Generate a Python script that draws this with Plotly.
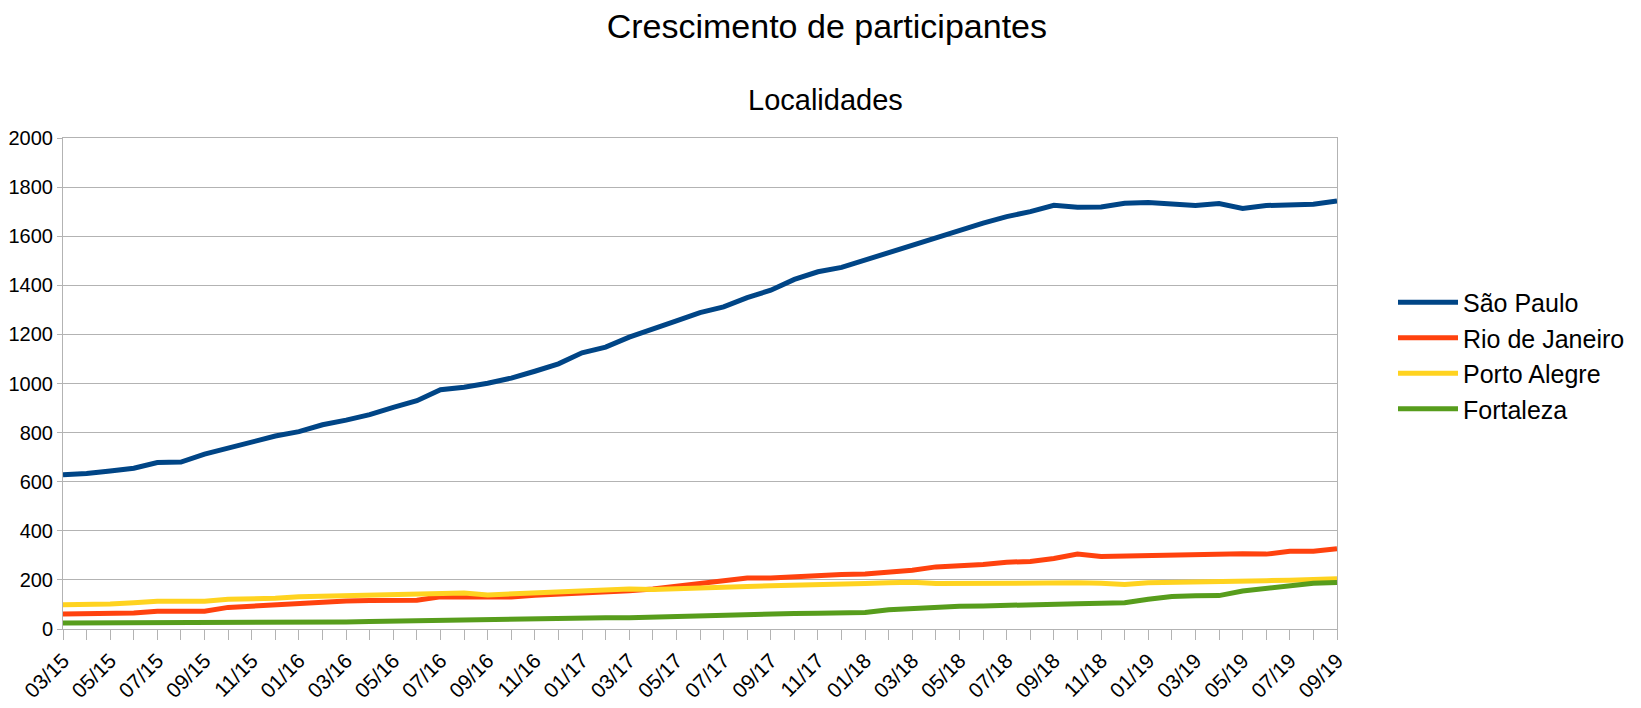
import plotly.graph_objects as go

MONTHS = [
    "03/15", "04/15", "05/15", "06/15", "07/15", "08/15", "09/15", "10/15", "11/15", "12/15",
    "01/16", "02/16", "03/16", "04/16", "05/16", "06/16", "07/16", "08/16", "09/16", "10/16", "11/16", "12/16",
    "01/17", "02/17", "03/17", "04/17", "05/17", "06/17", "07/17", "08/17", "09/17", "10/17", "11/17", "12/17",
    "01/18", "02/18", "03/18", "04/18", "05/18", "06/18", "07/18", "08/18", "09/18", "10/18", "11/18", "12/18",
    "01/19", "02/19", "03/19", "04/19", "05/19", "06/19", "07/19", "08/19", "09/19",
]

SAO_PAULO = [
    628, 633, 644, 655, 678, 680, 712, 736, 763, 786, 804,
    832, 851, 873, 903, 930, 975, 985, 1001, 1022, 1050,
    1080, 1125, 1148, 1189, 1220, 1255, 1289, 1312, 1350, 1380,
    1424, 1455, 1473, 1503, 1535, 1568, 1598, 1625, 1653, 1680,
    1700, 1726, 1718, 1719, 1734, 1737, 1732, 1725, 1733, 1713,
    1725, 1725, 1730, 1744,
]
RIO_DE_JANEIRO = [
    61, 61, 63, 65, 72, 72, 72, 88, 94, 97, 107, 112, 114, 116, 117, 117, 131, 131,
    130, 130, 137, 141, 147, 152, 156, 163, 174, 186, 197, 208, 208, 214, 219, 222, 224, 230,
    239, 253, 256, 263, 272, 275, 287, 305, 295, 297, 297, 302, 305, 307, 307, 305, 317, 317, 327,
]
PORTO_ALEGRE = [
    99, 99, 102, 107, 113, 113, 113, 121, 121, 125, 131, 133, 136, 139, 141, 144, 147, 147,
    139, 143, 146, 150, 156, 162, 163, 161, 165, 170, 173, 173, 176, 177, 180, 184, 185, 188,
    190, 185, 186, 186, 186, 186, 186, 188, 186, 181, 188, 189, 190, 190, 196, 197, 199, 201, 205,
]
FORTALEZA = [
    24, 24, 24, 25, 26, 26, 26, 27, 27, 28, 28, 28, 29, 31, 33, 35, 37, 38,
    41, 41, 42, 42, 45, 46, 46, 49, 49, 53, 57, 60, 60, 63, 64, 64, 67, 78,
    84, 90, 93, 94, 95, 98, 99, 103, 105, 107, 121, 132, 135, 136, 155, 165, 178, 186, 189,
]

SERIES = [
    ("São Paulo", SAO_PAULO, "#004586"),
    ("Rio de Janeiro", RIO_DE_JANEIRO, "#ff420e"),
    ("Porto Alegre", PORTO_ALEGRE, "#ffd320"),
    ("Fortaleza", FORTALEZA, "#579d1c"),
]

FONT = "Liberation Sans, Arial, sans-serif"
GRID = "#b3b3b3"
L, R, T, B = 55, 312, 130, 87
PW, PH = 1641 - L - R, 708 - T - B

fig = go.Figure()
for name, vals, color in SERIES:
    fig.add_trace(go.Scatter(x=MONTHS, y=vals, name=name, mode="lines",
                             line=dict(color=color, width=5)))

# label every second month, tick mark on every month
tick_text = [m if i % 2 == 0 else "" for i, m in enumerate(MONTHS)]

fig.update_layout(
    width=1641, height=708, template="plotly_white",
    paper_bgcolor="white", plot_bgcolor="white",
    margin=dict(l=L, r=R, t=T, b=B, autoexpand=False),
    font=dict(family=FONT, size=21, color="black"),
    title=dict(text="Crescimento de participantes", font=dict(size=34, color="black"),
               x=0.499, xanchor="center", xref="container", y=1 - 18 / 708, yanchor="middle"),
    legend=dict(x=(1385 - L) / PW, y=(708 - B - 347.5) / PH, xanchor="left", yanchor="middle",
                font=dict(size=25), itemwidth=60, bgcolor="rgba(0,0,0,0)"),
    showlegend=True,
)
fig.add_annotation(text="Localidades", xref="paper", yref="paper",
                   x=(817 - L) / PW, y=(708 - B - 92) / PH,
                   xanchor="center", yanchor="middle", showarrow=False,
                   font=dict(size=29, color="black"))

fig.update_xaxes(type="category", range=[0, len(MONTHS) - 1],
                 tickmode="array", tickvals=MONTHS, ticktext=tick_text, tickangle=-45,
                 ticks="outside", ticklen=10, tickcolor=GRID, showgrid=False,
                 showline=True, linecolor=GRID, linewidth=1, mirror=True,
                 zeroline=False, automargin=False)
fig.update_yaxes(range=[0, 2000], dtick=200, ticks="outside", ticklen=5, tickcolor=GRID,
                 tickfont=dict(size=20),
                 showgrid=True, gridcolor=GRID, gridwidth=1,
                 showline=True, linecolor=GRID, linewidth=1, mirror=True,
                 zeroline=False, automargin=False)

fig.write_html("out.html")
